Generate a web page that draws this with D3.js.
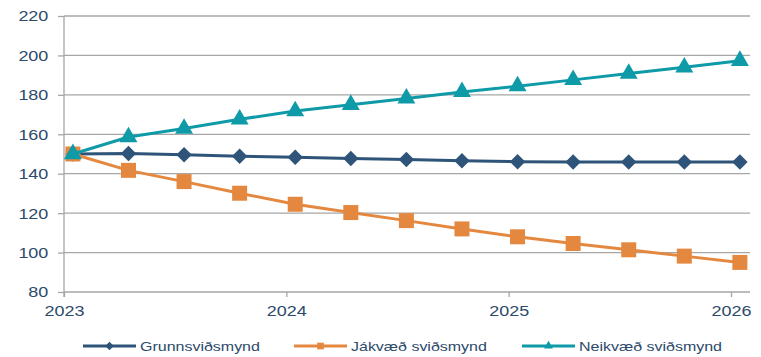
<!DOCTYPE html>
<html>
<head>
<meta charset="utf-8">
<script src="https://cdn.jsdelivr.net/npm/d3@7"></script>
<style>
  body { margin: 0; background: #fff; }
  svg { display: block; font-family: "Liberation Sans", Arial, sans-serif; }
</style>
</head>
<body>
<div id="chart"></div>
<script>
// quarterly points, expressed as fractional years
var periods = [2023.04, 2023.29, 2023.54, 2023.79, 2024.04, 2024.29, 2024.54, 2024.79,
               2025.04, 2025.29, 2025.54, 2025.79, 2026.04];
var grunn = [150, 150.3, 149.6, 148.9, 148.3, 147.7, 147.2, 146.6, 146.1, 145.9, 145.9, 145.9, 145.9];
var jakvaed = [150, 141.7, 136, 130.1, 124.5, 120.3, 116.2, 112, 108, 104.6, 101.4, 98.2, 95];
var neikvaed = [150, 158.6, 162.9, 167.6, 171.8, 175, 178.2, 181.5, 184.4, 187.6, 190.8, 194, 197.3];
var yTicks = [80, 100, 120, 140, 160, 180, 200, 220];
var xTicks = [2023, 2024, 2025, 2026];
var seriesNames = ["Grunnsviðsmynd", "Jákvæð sviðsmynd", "Neikvæð sviðsmynd"];

var W = 761, H = 357;
var margin = { top: 16, right: 11, bottom: 65, left: 64 };
var width = W - margin.left - margin.right,
    height = H - margin.top - margin.bottom;

var textColor = "#2c4a6b", gridColor = "#a6a6a6";
var tickStretch = 1.16, legendStretch = 1.23; // original text is wider than it is tall

// diamond = square turned 45 degrees
var diamond = {
    draw: function (context, size) {
        var r = Math.sqrt(size / 2);
        context.moveTo(0, -r);
        context.lineTo(r, 0);
        context.lineTo(0, r);
        context.lineTo(-r, 0);
        context.closePath();
    }
};

var series = [
    { name: seriesNames[0], values: grunn, color: "#2f5479", symbol: diamond, size: 120, legendSize: 36 },
    { name: seriesNames[1], values: jakvaed, color: "#e5883f", symbol: d3.symbolSquare, size: 225, legendSize: 45 },
    { name: seriesNames[2], values: neikvaed, color: "#0f9aa8", symbol: d3.symbolTriangle, size: 140, legendSize: 35 }
];

var svg = d3.select("#chart").append("svg")
    .attr("width", W)
    .attr("height", H);

var g = svg.append("g")
    .attr("transform", "translate(" + margin.left + "," + margin.top + ")");

var x = d3.scaleLinear().domain([2023, 2026.0855]).range([0, width]);
var y = d3.scaleLinear().domain([80, 220]).range([height, 0]);

// horizontal grid + left tick stubs
var yAxis = g.append("g")
    .call(d3.axisLeft(y).tickValues(yTicks).tickSize(6).tickPadding(7.5));
yAxis.select(".domain").remove();
yAxis.selectAll("line").attr("stroke", gridColor).attr("stroke-width", 1.3);
yAxis.selectAll("text")
    .attr("fill", textColor)
    .attr("transform", "scale(" + tickStretch + ",1)")
    .style("font-size", "15.5px");

g.append("g").selectAll("line")
    .data(yTicks)
    .enter().append("line")
    .attr("x1", 0).attr("x2", width)
    .attr("y1", function (d) { return y(d); })
    .attr("y2", function (d) { return y(d); })
    .attr("stroke", gridColor)
    .attr("stroke-width", 1.3);

// vertical axis line
g.append("line")
    .attr("x1", 0).attr("x2", 0)
    .attr("y1", 0).attr("y2", height + 5)
    .attr("stroke", gridColor)
    .attr("stroke-width", 1.3);

var xAxis = g.append("g")
    .attr("transform", "translate(0," + height + ")")
    .call(d3.axisBottom(x).tickValues(xTicks).tickFormat(d3.format("d")).tickSize(5).tickPadding(8));
xAxis.select(".domain").remove();
xAxis.selectAll("line").attr("stroke", gridColor).attr("stroke-width", 1.3);
xAxis.selectAll("text")
    .attr("fill", textColor)
    .attr("transform", "scale(" + tickStretch + ",1)")
    .style("font-size", "15.5px");

var line = d3.line()
    .x(function (d, i) { return x(periods[i]); })
    .y(function (d) { return y(d); });

series.forEach(function (s) {
    var sg = g.append("g");
    sg.append("path")
        .datum(s.values)
        .attr("fill", "none")
        .attr("stroke", s.color)
        .attr("stroke-width", 3)
        .attr("stroke-linejoin", "round")
        .attr("d", line);

    sg.selectAll(".marker")
        .data(s.values)
        .enter().append("path")
        .attr("class", "marker")
        .attr("transform", function (d, i) {
            return "translate(" + x(periods[i]) + "," + y(d) + ")";
        })
        .attr("fill", s.color)
        .attr("d", d3.symbol().type(s.symbol).size(s.size));
});

// legend
var legendX = [83, 294, 522];
var legend = svg.append("g");
series.forEach(function (s, i) {
    var lg = legend.append("g")
        .attr("transform", "translate(" + legendX[i] + ",346)");
    lg.append("line")
        .attr("x1", 0).attr("x2", 53)
        .attr("stroke", s.color)
        .attr("stroke-width", 3);
    lg.append("path")
        .attr("transform", "translate(26.5,0)")
        .attr("fill", s.color)
        .attr("d", d3.symbol().type(s.symbol).size(s.legendSize));
    lg.append("text")
        .attr("transform", "translate(57,0) scale(" + legendStretch + ",1)")
        .attr("dy", "0.35em")
        .attr("fill", textColor)
        .style("font-size", "13px")
        .text(s.name);
});
</script>
</body>
</html>
